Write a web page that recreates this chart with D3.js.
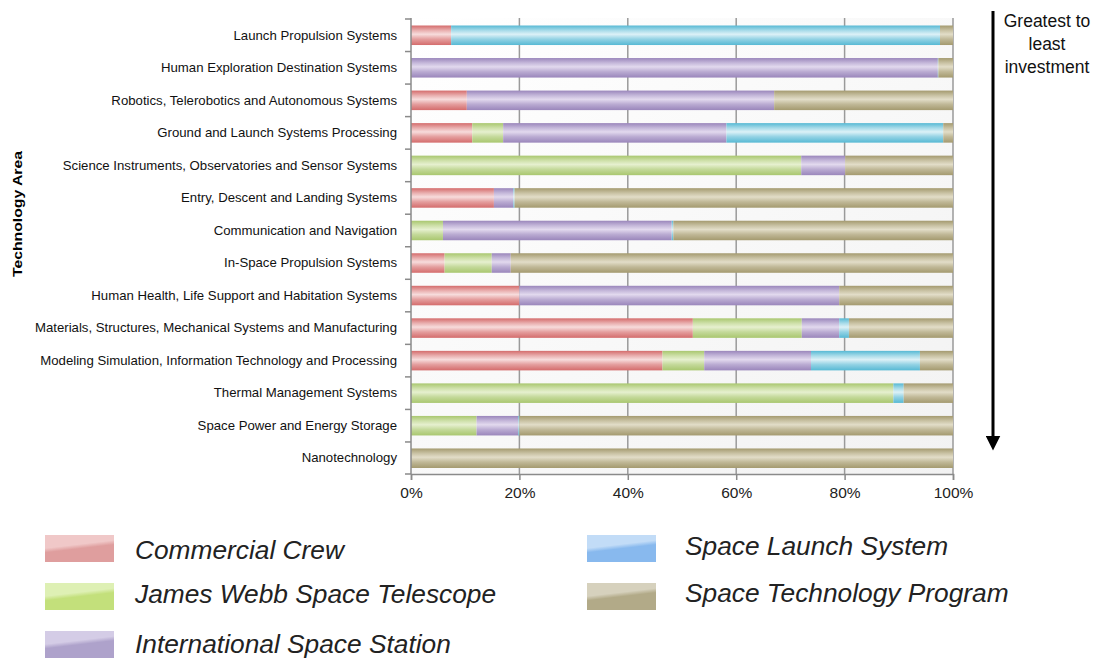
<html>
<head>
<script src="https://d3js.org/d3.v7.min.js"></script>
<style>
  body { margin: 0; background: #fff; }
  text { font-family: "Liberation Sans", Arial, sans-serif; }
</style>
</head>
<body>
<svg id="chart" width="1095" height="658"></svg>
<script>
// technology areas, greatest to least investment
var areas = [
  "Launch Propulsion Systems",
  "Human Exploration Destination Systems",
  "Robotics, Telerobotics and Autonomous Systems",
  "Ground and Launch Systems Processing",
  "Science Instruments, Observatories and Sensor Systems",
  "Entry, Descent and Landing Systems",
  "Communication and Navigation",
  "In-Space Propulsion Systems",
  "Human Health, Life Support and Habitation Systems",
  "Materials, Structures, Mechanical Systems and Manufacturing",
  "Modeling Simulation, Information Technology and Processing",
  "Thermal Management Systems",
  "Space Power and Energy Storage",
  "Nanotechnology"
];

var programs = ["Commercial Crew", "James Webb Space Telescope", "International Space Station",
                "Space Launch System", "Space Technology Program"];

// share of investment (%) per program, same order as areas
var commercialCrew = [7.4, 0, 10.3, 11.3, 0, 15.3, 0, 6.2, 20.0, 52.0, 46.4, 0, 0, 0];
var jamesWebb      = [0, 0, 0, 5.7, 72.0, 0, 5.9, 8.7, 0, 20.1, 7.7, 89.0, 12.1, 0];
var spaceStation   = [0, 97.2, 56.7, 41.2, 8.1, 3.6, 42.2, 3.5, 59.0, 6.9, 19.7, 0, 7.7, 0];
var launchSystem   = [90.2, 0.1, 0, 40.0, 0, 0.2, 0.3, 0, 0, 1.8, 20.1, 1.9, 0.2, 0];
var techProgram    = [2.4, 2.7, 33.0, 1.8, 19.9, 80.9, 51.6, 81.6, 21.0, 19.2, 6.1, 9.1, 80.0, 100];

var xTicks = [0, 0.2, 0.4, 0.6, 0.8, 1];

var seriesValues = [commercialCrew, jamesWebb, spaceStation, launchSystem, techProgram];

// glossy bar colours: edge, centre
var barColors = [
  ["#d46c6c", "#f7dcdc"],
  ["#a9c76f", "#e6f0cf"],
  ["#9a86bb", "#e2d9ee"],
  ["#57b9d4", "#dcf1f7"],
  ["#a49a6f", "#e2ddc8"]
];
var legendColors = [
  ["#df9e9e", "#f0c8c8"],
  ["#c3e07b", "#def0b4"],
  ["#aea2cb", "#d4cce6"],
  ["#88b9ee", "#c2dcf7"],
  ["#b2aa88", "#d6d1bd"]
];

var svg = d3.select("#chart");
var defs = svg.append("defs");

barColors.forEach(function (c, i) {
  var g = defs.append("linearGradient").attr("id", "bar" + i)
    .attr("x1", 0).attr("y1", 0).attr("x2", 0).attr("y2", 1);
  g.append("stop").attr("offset", "0%").attr("stop-color", c[0]);
  g.append("stop").attr("offset", "25%").attr("stop-color", d3.interpolate(c[0], c[1])(0.6));
  g.append("stop").attr("offset", "45%").attr("stop-color", c[1]);
  g.append("stop").attr("offset", "70%").attr("stop-color", d3.interpolate(c[0], c[1])(0.45));
  g.append("stop").attr("offset", "100%").attr("stop-color", c[0]);
});
legendColors.forEach(function (c, i) {
  var g = defs.append("linearGradient").attr("id", "leg" + i)
    .attr("x1", 0).attr("y1", 0).attr("x2", 0.3).attr("y2", 1);
  g.append("stop").attr("offset", "0%").attr("stop-color", c[1]);
  g.append("stop").attr("offset", "45%").attr("stop-color", c[1]);
  g.append("stop").attr("offset", "60%").attr("stop-color", c[0]);
  g.append("stop").attr("offset", "100%").attr("stop-color", c[0]);
});
var bg = defs.append("linearGradient").attr("id", "bg")
  .attr("x1", 0).attr("y1", 0).attr("x2", 1).attr("y2", 1);
bg.append("stop").attr("offset", "0%").attr("stop-color", "#ffffff");
bg.append("stop").attr("offset", "100%").attr("stop-color", "#f2f2f2");

var margin = { left: 411, right: 142, top: 18, bottom: 184 };
var W = 1095, H = 658;

var x = d3.scaleLinear().domain([0, 100]).range([margin.left, W - margin.right]);
var y = d3.scaleBand().domain(areas).range([19, H - margin.bottom + 0.5]).paddingInner(0.4).paddingOuter(0.2);

// plot background
svg.append("rect")
  .attr("x", x(0)).attr("y", margin.top)
  .attr("width", x(100) - x(0)).attr("height", H - margin.bottom - margin.top)
  .attr("fill", "url(#bg)");

// grid lines
svg.append("g").selectAll("line")
  .data(xTicks.slice(1))
  .enter().append("line")
  .attr("x1", function (d) { return x(d * 100); })
  .attr("x2", function (d) { return x(d * 100); })
  .attr("y1", margin.top).attr("y2", H - margin.bottom)
  .attr("stroke", "#9a9a9a").attr("stroke-width", 1.5);

// stacked data
var rows = areas.map(function (a, i) {
  var o = { area: a };
  programs.forEach(function (p, j) { o[p] = seriesValues[j][i]; });
  return o;
});
var stacked = d3.stack().keys(programs)(rows);

svg.append("g").selectAll("g")
  .data(stacked)
  .enter().append("g")
  .attr("fill", function (d, i) { return "url(#bar" + i + ")"; })
  .selectAll("rect")
  .data(function (d) { return d; })
  .enter().append("rect")
  .attr("x", function (d) { return x(d[0]); })
  .attr("y", function (d) { return y(d.data.area); })
  .attr("width", function (d) { return Math.max(0, x(Math.min(d[1], 100)) - x(d[0])); })
  .attr("height", y.bandwidth());

// x axis
var xAxis = svg.append("g")
  .attr("transform", "translate(0," + (H - margin.bottom) + ")")
  .call(d3.axisBottom(x).tickValues(xTicks.map(function (d) { return d * 100; }))
    .tickFormat(function (d) { return d + "%"; }).tickSize(6));
xAxis.select(".domain").attr("stroke", "#8a8a8a").attr("stroke-width", 1.5);
xAxis.selectAll(".tick line").attr("stroke", "#8a8a8a").attr("stroke-width", 1.5);
xAxis.selectAll(".tick text").attr("font-size", 15.5).attr("fill", "#222")
  .attr("dy", "0.95em").attr("font-family", "Liberation Sans, Arial, sans-serif");

// y axis
var yAxis = svg.append("g")
  .attr("transform", "translate(" + x(0) + ",0)")
  .call(d3.axisLeft(y).tickSize(0).tickPadding(14));
yAxis.select(".domain").attr("stroke", "#8a8a8a").attr("stroke-width", 1.5)
  .attr("d", "M0," + margin.top + "V" + (H - margin.bottom));
yAxis.selectAll(".tick text").attr("font-size", 13.2).attr("fill", "#111")
  .attr("font-family", "Liberation Sans, Arial, sans-serif");

// band-boundary ticks
var bounds = areas.map(function (a) { return y(a) - y.step() * y.paddingInner() / 2; });
bounds.push(H - margin.bottom);
svg.append("g").selectAll("line")
  .data(bounds).enter().append("line")
  .attr("x1", x(0) - 6).attr("x2", x(0))
  .attr("y1", function (d) { return d; }).attr("y2", function (d) { return d; })
  .attr("stroke", "#8a8a8a").attr("stroke-width", 1.5);

// y axis title
svg.append("text")
  .attr("transform", "translate(22,214) rotate(-90)")
  .attr("text-anchor", "middle")
  .attr("font-size", 13.5).attr("font-weight", "bold")
  .attr("textLength", 126).attr("lengthAdjust", "spacingAndGlyphs")
  .text("Technology Area");

// ordering arrow
defs.append("marker").attr("id", "arrow")
  .attr("viewBox", "0 0 10 10").attr("refX", 5).attr("refY", 5)
  .attr("markerWidth", 5).attr("markerHeight", 5).attr("orient", "auto")
  .append("path").attr("d", "M0,0 L10,5 L0,10 Z").attr("fill", "#000");
svg.append("line")
  .attr("x1", 993).attr("x2", 993).attr("y1", 11).attr("y2", 443)
  .attr("stroke", "#000").attr("stroke-width", 3)
  .attr("marker-end", "url(#arrow)");
var note = ["Greatest to", "least", "investment"];
svg.append("text")
  .attr("x", 1047).attr("y", 27)
  .attr("text-anchor", "middle").attr("font-size", 17.5).attr("fill", "#111")
  .selectAll("tspan").data(note).enter().append("tspan")
  .attr("x", 1047).attr("dy", function (d, i) { return i ? 23 : 0; })
  .text(function (d) { return d; });

// legend
var legendPos = [[45, 535, 559], [45, 583, 603], [45, 631, 653], [587, 535, 555], [587, 583, 602]];
var legend = svg.append("g").selectAll("g")
  .data(programs).enter().append("g");
legend.append("rect")
  .attr("x", function (d, i) { return legendPos[i][0]; })
  .attr("y", function (d, i) { return legendPos[i][1]; })
  .attr("width", 69).attr("height", 27)
  .attr("fill", function (d, i) { return "url(#leg" + i + ")"; });
legend.append("text")
  .attr("x", function (d, i) { return legendPos[i][0] + (i < 3 ? 90 : 98); })
  .attr("y", function (d, i) { return legendPos[i][2]; })
  .attr("font-size", 26.3).attr("font-style", "italic").attr("fill", "#222")
  .text(function (d) { return d; });
</script>
</body>
</html>
